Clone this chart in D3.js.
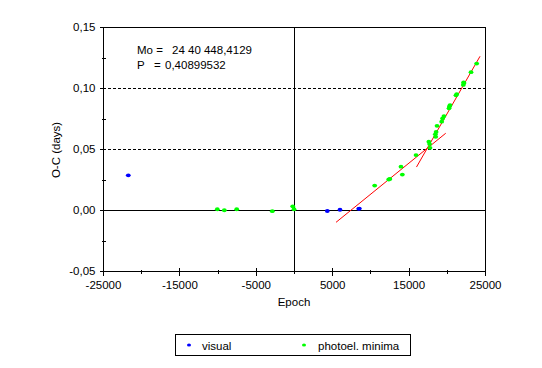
<!DOCTYPE html>
<html><head><meta charset="utf-8">
<script src="https://cdn.jsdelivr.net/npm/d3@7"></script>
<style>body{margin:0;background:#fff}svg{display:block}text{font-family:"Liberation Sans",Arial,sans-serif;font-size:11.5px;fill:#000}.crisp line,.crisp rect{shape-rendering:crispEdges}</style>
</head><body><svg id="c" width="542" height="368"></svg>
<script>
const visualEpoch=[-21690,4360,6020,8470,8550];
const visualOC=[0.0284,-0.0008,0.0002,0.0010,0.0012];
const photoEpoch=[-10040,-9120,-7500,-2840,-170,0,10560,12400,12550,14000,14180,15970,17650,17750,17800,18500,18550,18600,18720,19330,19450,19630,20290,20350,20420,21200,21300,22160,22200,22250,23170,23910];
const photoOC=[0.0006,-0.0002,0.0006,-0.0010,0.0030,0.0006,0.0200,0.0250,0.0255,0.0355,0.0290,0.0450,0.0560,0.0540,0.0510,0.0620,0.0600,0.0640,0.0690,0.0724,0.0750,0.0770,0.0833,0.0850,0.0860,0.0940,0.0950,0.1025,0.1045,0.1040,0.1130,0.1200];
const fit1Epoch=[5500,19860], fit1OC=[-0.0101,0.0629];
const fit2Epoch=[16030,24350], fit2OC=[0.0352,0.126];
const xMajor=[-25000,-15000,-5000,5000,15000,25000];
const xMinor=[-20000,-10000,0,10000,20000];
const yMajor=[-0.05,0,0.05,0.10,0.15];
const yMinor=[-0.025,0.025,0.075,0.125];
const yDashed=[0.05,0.10];
const legendLabels=["visual","photoel. minima"];
const colors=["#0000ff","#00ff00"];

const svg=d3.select("#c");
const root=svg.append("g").attr("class","crisp");
const x=d3.scaleLinear().domain([-25000,25000]).range([103,485]);
const y=d3.scaleLinear().domain([-0.05,0.15]).range([271,27]);
const fmtY=v=>d3.format(".2f")(v).replace(".",",").replace("−","-");

root.selectAll(".dash").data(yDashed).join("line")
 .attr("x1",x(-25000)).attr("x2",x(25000)).attr("y1",d=>Math.round(y(d))+0.5).attr("y2",d=>Math.round(y(d))+0.5)
 .attr("stroke","#000").attr("stroke-dasharray","3,2");
root.append("line").attr("x1",x(-25000)).attr("x2",x(25000)).attr("y1",Math.round(y(0))+0.5).attr("y2",Math.round(y(0))+0.5).attr("stroke","#000");
root.append("line").attr("x1",Math.round(x(0))+0.5).attr("x2",Math.round(x(0))+0.5).attr("y1",y(0.15)).attr("y2",y(-0.05)).attr("stroke","#000");
root.append("rect").attr("x",x(-25000)+0.5).attr("y",Math.round(y(0.15))+0.5).attr("width",x(25000)-x(-25000)).attr("height",Math.round(y(-0.05))-Math.round(y(0.15))).attr("fill","none").attr("stroke","#000");

const xa=d3.axisBottom(x).tickValues(xMajor).tickSize(4).tickFormat(d=>String(d));
const gx=root.append("g").attr("transform",`translate(0,${Math.round(y(-0.05))+0.5})`).call(xa);
gx.select(".domain").remove();
gx.selectAll(".tick line").attr("y1",-4);
gx.selectAll(".tick text").attr("y",9).attr("font-size",null).attr("font-family",null);
const xm=root.append("g").attr("transform",`translate(0,${Math.round(y(-0.05))+0.5})`).call(d3.axisBottom(x).tickValues(xMinor).tickSize(2).tickFormat(""));
xm.select(".domain").remove(); xm.selectAll(".tick line").attr("y1",-2);

const ya=d3.axisLeft(y).tickValues(yMajor).tickSize(4).tickFormat(fmtY);
const gy=root.append("g").attr("transform",`translate(${x(-25000)+0.5},0)`).call(ya);
gy.select(".domain").remove();
gy.selectAll(".tick text").attr("x",-8).attr("font-size",null).attr("font-family",null);
const ym=root.append("g").attr("transform",`translate(${x(-25000)+0.5},0)`).call(d3.axisLeft(y).tickValues(yMinor).tickSize(2).tickFormat(""));
ym.select(".domain").remove(); ym.selectAll(".tick line").attr("x1",2);

svg.append("text").attr("x",294).attr("y",306).attr("text-anchor","middle").text("Epoch");
svg.append("text").attr("transform","translate(60,150) rotate(-90)").attr("text-anchor","middle").text("O-C (days)");

const line=d3.line().x(d=>x(d[0])).y(d=>y(d[1]));
[[fit1Epoch,fit1OC],[fit2Epoch,fit2OC]].forEach(([e,o])=>{
 svg.append("path").attr("d",line(e.map((v,i)=>[v,o[i]]))).attr("stroke","#ff0000").attr("fill","none").attr("stroke-width",1);
});

function pts(ep,oc,col){
 svg.append("g").selectAll("ellipse").data(ep.map((v,i)=>[v,oc[i]])).join("ellipse")
  .attr("cx",d=>x(d[0])).attr("cy",d=>y(d[1])).attr("rx",2.4).attr("ry",1.9).attr("fill",col);
}
pts(photoEpoch,photoOC,colors[1]);
pts(visualEpoch,visualOC,colors[0]);

svg.append("text").attr("x",137).attr("y",54).text("Mo =");
svg.append("text").attr("x",172).attr("y",54).text("24 40 448,4129");
svg.append("text").attr("x",137).attr("y",69).text("P");
svg.append("text").attr("x",154).attr("y",69).text("=");
svg.append("text").attr("x",165).attr("y",69).text("0,40899532");

root.append("rect").attr("x",175.5).attr("y",334.5).attr("width",235).attr("height",21).attr("fill","#fff").attr("stroke","#000");
const lx=[189,304], tx=[202,318];
legendLabels.forEach((l,i)=>{
 svg.append("ellipse").attr("cx",lx[i]).attr("cy",345).attr("rx",2).attr("ry",1.6).attr("fill",colors[i]);
 svg.append("text").attr("x",tx[i]).attr("y",350).text(l);
});
</script></body></html>
